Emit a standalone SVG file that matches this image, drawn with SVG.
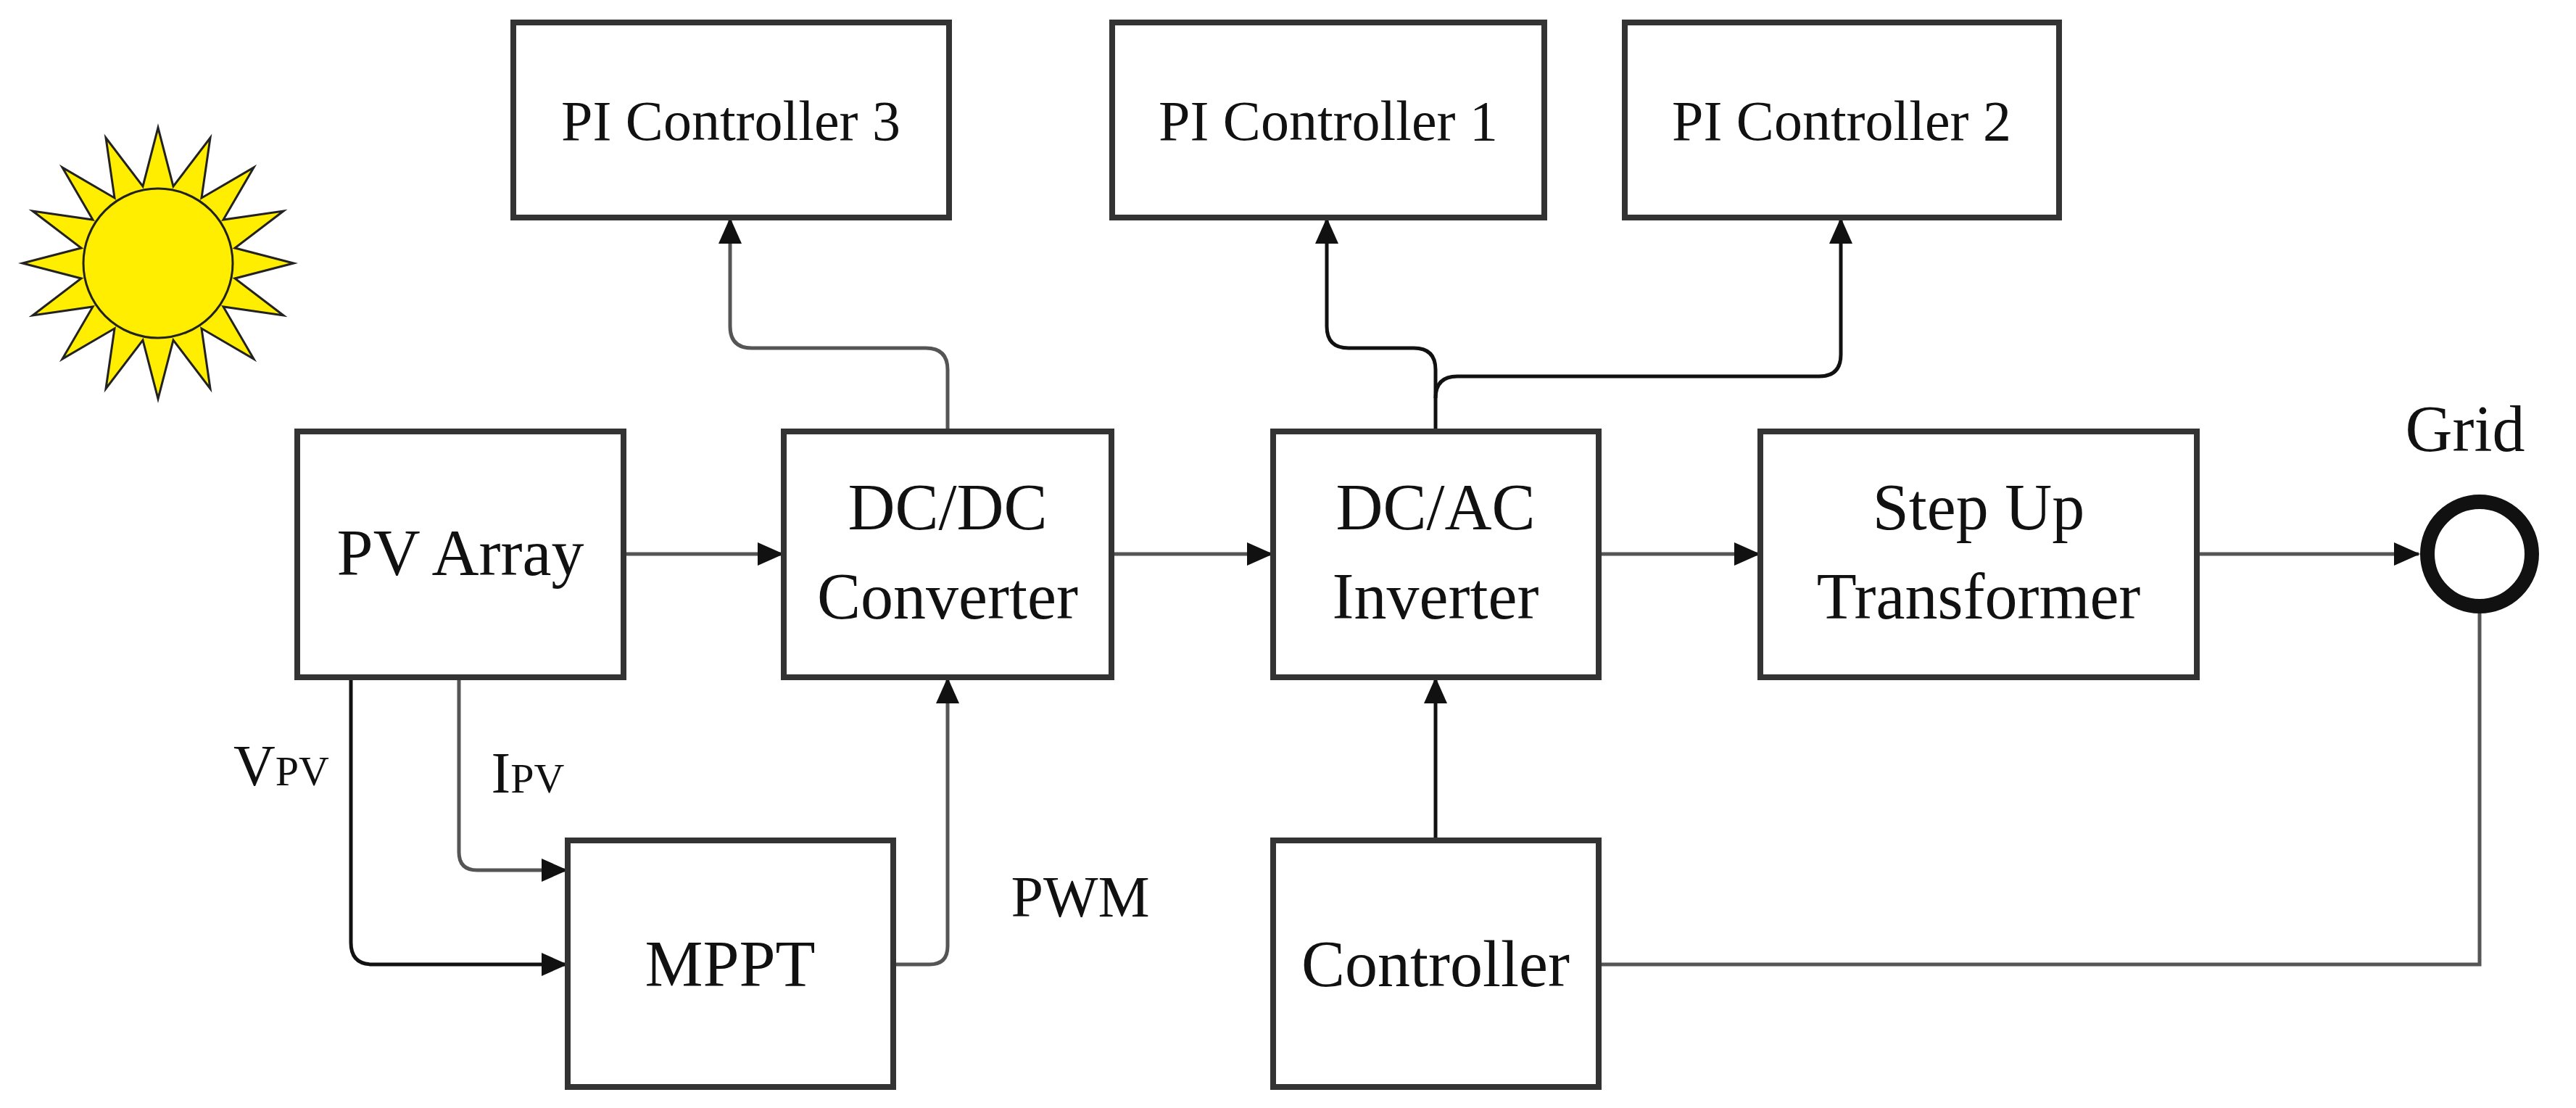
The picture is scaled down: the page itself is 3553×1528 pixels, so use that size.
<svg xmlns="http://www.w3.org/2000/svg" width="3553" height="1528" viewBox="0 0 3553 1528">
<style>
.box{fill:#fff;stroke:#333;stroke-width:8}
.t{font-family:"Liberation Serif",serif;fill:#111;text-anchor:middle}
.big{font-size:90px}
.pi{font-size:78px}
.c{fill:none;stroke:#555;stroke-width:5}
.k{stroke:#111}
</style>
<defs>
<marker id="a" markerUnits="userSpaceOnUse" markerWidth="36" markerHeight="36" viewBox="0 0 36 36" refX="34" refY="18" orient="auto">
<path d="M0,2 L36,18 L0,34 Z" fill="#111"/>
</marker>
</defs>
<g id="sun">
<polygon fill="#ffee00" stroke="#222" stroke-width="3" points="405,363 324,384 391,435 308,423 350,495 278,453 290,536 239,469 218,550 197,469 146,536 158,453 86,495 128,423 45,435 112,384 31,363 112,342 45,291 128,303 86,231 158,273 146,190 197,257 218,176 239,257 290,190 278,273 350,231 308,303 391,291 324,342"/>
<circle cx="218" cy="363" r="103" fill="#ffee00" stroke="#222" stroke-width="3"/>
</g>
<g id="connectors">
<path class="c" d="M860,764 H1079" marker-end="url(#a)"/>
<path class="c" d="M1533,764 H1754" marker-end="url(#a)"/>
<path class="c" d="M2205,764 H2426" marker-end="url(#a)"/>
<path class="c" d="M3030,764 H3336" marker-end="url(#a)"/>
<path class="c" d="M1307,595 V510 Q1307,480 1277,480 H1037 Q1007,480 1007,450 V302" marker-end="url(#a)"/>
<path class="c k" d="M1980,595 V510 Q1980,480 1950,480 H1860 Q1830,480 1830,450 V302" marker-end="url(#a)"/>
<path class="c k" d="M1980,549 Q1980,519 2010,519 H2509 Q2539,519 2539,489 V302" marker-end="url(#a)"/>
<path class="c k" d="M484,934 V1300 Q484,1330 514,1330 H781" marker-end="url(#a)"/>
<path class="c" d="M633,934 V1175 Q633,1200 658,1200 H781" marker-end="url(#a)"/>
<path class="c" d="M1232,1330 H1282 Q1307,1330 1307,1305 V936" marker-end="url(#a)"/>
<path class="c k" d="M1980,1159 V936" marker-end="url(#a)"/>
<path class="c" d="M2205,1330 H3420 V846"/>
</g>
<g id="pi3"><rect class="box" x="708" y="31" width="601" height="269"/><text class="t pi" x="1008" y="193">PI Controller 3</text></g>
<g id="pi1"><rect class="box" x="1534" y="31" width="596" height="269"/><text class="t pi" x="1832" y="193">PI Controller 1</text></g>
<g id="pi2"><rect class="box" x="2241" y="31" width="599" height="269"/><text class="t pi" x="2540" y="193">PI Controller 2</text></g>
<g id="pv"><rect class="box" x="410" y="595" width="450" height="339"/><text class="t big" x="635" y="793">PV Array</text></g>
<g id="dcdc"><rect class="box" x="1081" y="595" width="452" height="339"/><text class="t big" x="1307" y="730">DC/DC</text><text class="t big" x="1307" y="853">Converter</text></g>
<g id="dcac"><rect class="box" x="1756" y="595" width="449" height="339"/><text class="t big" x="1980" y="730">DC/AC</text><text class="t big" x="1980" y="853">Inverter</text></g>
<g id="step"><rect class="box" x="2428" y="595" width="602" height="339"/><text class="t big" x="2729" y="730">Step Up</text><text class="t big" x="2729" y="853">Transformer</text></g>
<g id="mppt"><rect class="box" x="783" y="1159" width="449" height="340"/><text class="t big" x="1007" y="1360">MPPT</text></g>
<g id="controller"><rect class="box" x="1756" y="1159" width="449" height="340"/><text class="t big" x="1980" y="1360">Controller</text></g>
<g id="grid"><circle cx="3420" cy="764" r="72" fill="#fff" stroke="#111" stroke-width="20"/><text class="t big" x="3400" y="622">Grid</text></g>
<g id="labels">
<text class="t" x="388" y="1083" font-size="80">V<tspan font-size="58">PV</tspan></text>
<text class="t" x="728" y="1093" font-size="80">I<tspan font-size="58">PV</tspan></text>
<text class="t" x="1490" y="1264" font-size="80">PWM</text>
</g>
</svg>
